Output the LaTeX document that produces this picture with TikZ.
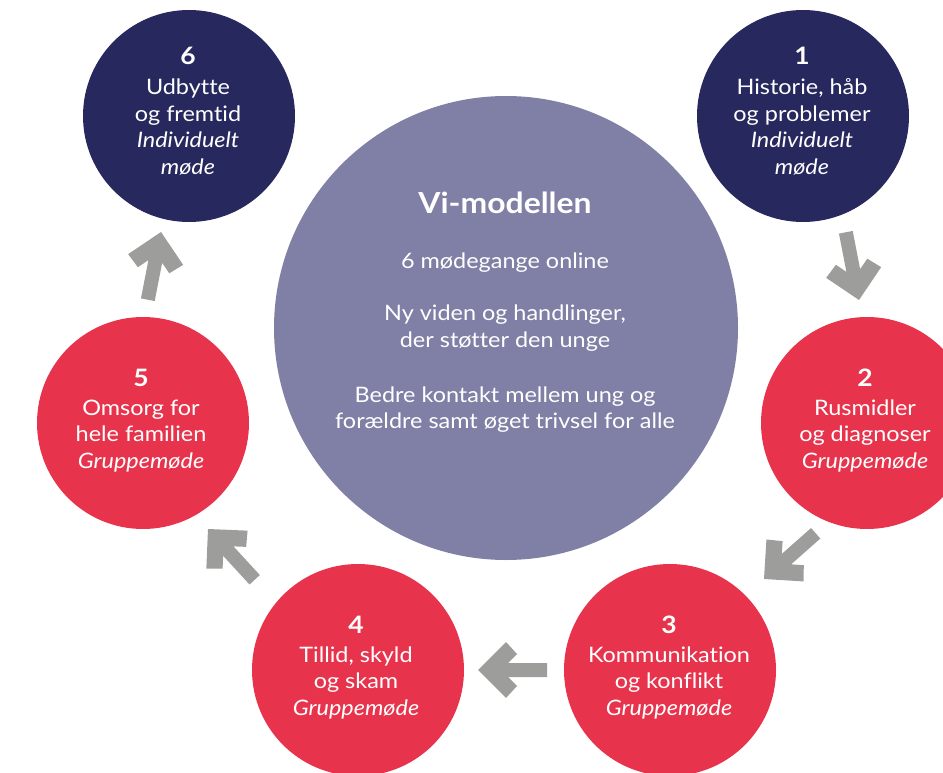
\documentclass[tikz,border=0pt]{standalone}
\usepackage{fontspec}
\setmainfont{Lato}[FakeStretch=1.1,Ligatures=NoCommon]
\definecolor{navy}{RGB}{39,40,94}
\definecolor{vired}{RGB}{231,52,76}
\definecolor{lav}{RGB}{128,128,166}
\definecolor{agray}{RGB}{157,157,156}
\tikzset{
  small/.style={circle,inner sep=0pt,minimum size=212pt},
  navycirc/.style={small,fill=navy},
  redcirc/.style={small,fill=vired},
  bigcirc/.style={circle,inner sep=0pt,minimum size=464pt,fill=lav},
  txt/.style={anchor=base,inner sep=0pt,text=white,font=\fontsize{21.3}{24}\selectfont},
  itxt/.style={txt,font=\fontsize{21.3}{24}\selectfont\itshape},
  num/.style={txt,font=\fontsize{24}{26}\selectfont\bfseries},
  ttl/.style={txt,font=\fontsize{29}{32}\selectfont\bfseries},
  blockarrow/.pic={\fill[agray] (0,0) -- (-28,-28) -- (-39,-16) -- (-30,-7) -- (-69,-7) -- (-69,7) -- (-30,7) -- (-39,16) -- (-28,28) -- cycle;}
}
\begin{document}
\begin{tikzpicture}[x=1pt,y=-1pt]
\useasboundingbox (0,0) rectangle (943,773);
\clip (0,0) rectangle (943,773);
% circles
\node[bigcirc] (c0) at (506,328) {};
\node[navycirc] (c6) at (189,116) {};
\node[navycirc] (c1) at (803,116) {};
\node[redcirc] (c5) at (143,423) {};
\node[redcirc] (c2) at (867,423) {};
\node[redcirc] (c4) at (358,670) {};
\node[redcirc] (c3) at (670,670) {};
% centre text
\node[ttl] (t0a) at (505,213) {Vi-modellen};
\node[txt] (t0b) at (505,268) {6 mødegange online};
\node[txt] (t0c) at (505,320) {Ny viden og handlinger,};
\node[txt] (t0d) at (505,347) {der støtter den unge};
\node[txt] (t0e) at (505,402.5) {Bedre kontakt mellem ung og};
\node[txt] (t0f) at (505,428.5) {forældre samt øget trivsel for alle};
% circle 6
\node[num] (t6a) at (188,65) {6};
\node[txt] (t6b) at (188,95) {Udbytte};
\node[txt] (t6c) at (188,121.5) {og fremtid};
\node[itxt] (t6d) at (188,148) {Individuelt};
\node[itxt] (t6e) at (188,174.5) {møde};
% circle 1
\node[num] (t1a) at (802,65) {1};
\node[txt] (t1b) at (802,95) {Historie, håb};
\node[txt] (t1c) at (802,121.5) {og problemer};
\node[itxt] (t1d) at (802,148) {Individuelt};
\node[itxt] (t1e) at (802,174.5) {møde};
% circle 5
\node[num] (t5a) at (141,386) {5};
\node[txt] (t5b) at (141,415) {Omsorg for};
\node[txt] (t5c) at (141,441.5) {hele familien};
\node[itxt] (t5d) at (141,468) {Gruppemøde};
% circle 2
\node[num] (t2a) at (865,386) {2};
\node[txt] (t2b) at (865,415) {Rusmidler};
\node[txt] (t2c) at (865,441.5) {og diagnoser};
\node[itxt] (t2d) at (865,468) {Gruppemøde};
% circle 4
\node[num] (t4a) at (356,633) {4};
\node[txt] (t4b) at (356,662) {Tillid, skyld};
\node[txt] (t4c) at (356,688.5) {og skam};
\node[itxt] (t4d) at (356,715) {Gruppemøde};
% circle 3
\node[num] (t3a) at (669,633) {3};
\node[txt] (t3b) at (669,662) {Kommunikation};
\node[txt] (t3c) at (669,688.5) {og konflikt};
\node[itxt] (t3d) at (669,715) {Gruppemøde};
% arrows
\coordinate (p12) at (859,300);
\coordinate (p23) at (764,579);
\coordinate (p34) at (478,670);
\coordinate (p45) at (208,529);
\coordinate (p56) at (161,232);
\pic[rotate=-79] (a12) at (p12) {blockarrow};
\pic[rotate=-138.5] (a23) at (p23) {blockarrow};
\pic[rotate=180] (a34) at (p34) {blockarrow};
\pic[rotate=132.6] (a45) at (p45) {blockarrow};
\pic[rotate=79] (a56) at (p56) {blockarrow};
\end{tikzpicture}
\end{document}
